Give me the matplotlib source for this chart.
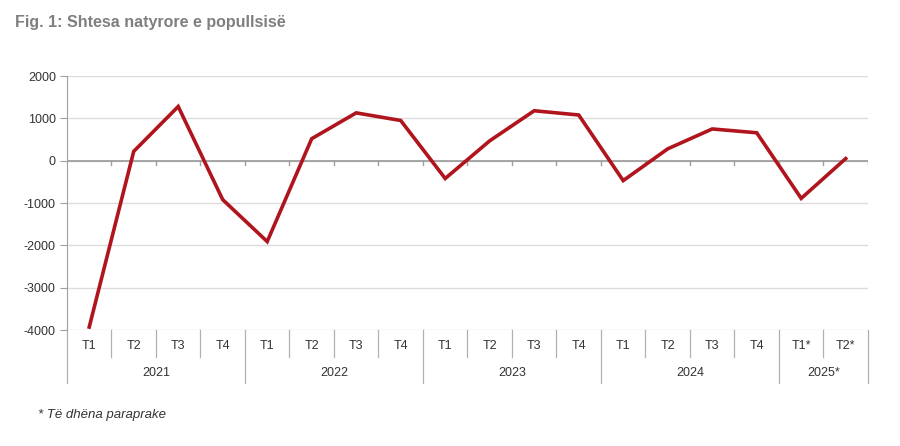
import matplotlib.pyplot as plt
import matplotlib.transforms as mtransforms
import numpy as np

# Data
quarters = ['T1', 'T2', 'T3', 'T4', 'T1', 'T2', 'T3', 'T4', 'T1', 'T2', 'T3', 'T4',
            'T1', 'T2', 'T3', 'T4', 'T1*', 'T2*']
years = ['2021', '2022', '2023', '2024', '2025*']
year_sizes = [4, 4, 4, 4, 2]
values = [-3930, 220, 1280, -920, -1910, 520, 1130, 950, -420, 470, 1180, 1080,
          -470, 280, 750, 660, -890, 50]

plt.rcParams['font.family'] = ['Liberation Sans', 'DejaVu Sans']
plt.rcParams['axes.unicode_minus'] = False

fig = plt.figure(figsize=(9, 4.46), dpi=100)
ax = fig.add_axes([0.0744, 0.260, 0.890, 0.5695])

n = len(values)
x = np.arange(n)
ax.plot(x, values, color='#B0151D', lw=2.6, solid_joinstyle='miter', zorder=3)

ax.set_xlim(-0.5, n - 0.5)
ax.set_ylim(-4000, 2000)
ax.set_yticks(range(-4000, 2001, 1000))
ax.yaxis.grid(True, color='#dcdcdc', lw=1)
ax.set_axisbelow(True)
ax.tick_params(axis='y', length=5, color='#a0a0a0', labelsize=9, labelcolor='#333333', pad=3)
ax.set_xticks([])
for side in ['top', 'right', 'bottom']:
    ax.spines[side].set_visible(False)
ax.spines['left'].set_color('#a0a0a0')

# zero line with small boundary ticks
ax.axhline(0, color='#a0a0a0', lw=1.3, zorder=2)
for b in np.arange(0.5, n, 1.0):
    ax.plot([b, b], [0, -100], color='#a0a0a0', lw=1, zorder=2)

# category table below axes
trans = mtransforms.blended_transform_factory(ax.transData, ax.transAxes)
h = 254.0
for i, q in enumerate(quarters):
    ax.text(i, -16 / h, q, transform=trans, ha='center', va='center',
            fontsize=9, color='#333333')
bounds = np.cumsum([0] + year_sizes)
for b in np.arange(1, n):
    if b in bounds:
        continue
    ax.plot([b - 0.5, b - 0.5], [0, -27 / h], transform=trans, color='#b0b0b0',
            lw=0.9, clip_on=False)
for b in bounds:
    ax.plot([b - 0.5, b - 0.5], [0, -53 / h], transform=trans, color='#b0b0b0',
            lw=0.9, clip_on=False)
for yr, s, e in zip(years, bounds[:-1], bounds[1:]):
    ax.text((s + e - 1) / 2, -43 / h, yr, transform=trans, ha='center', va='center',
            fontsize=9, color='#333333')

fig.text(15 / 900, 1 - 22 / 446, 'Fig. 1: Shtesa natyrore e popullsisë', ha='left', va='center',
         fontsize=11.5, fontweight='bold', color='#7f7f7f')
fig.text(38 / 900, 1 - 415 / 446, '* Të dhëna paraprake', ha='left', va='center',
         fontsize=9.5, style='italic', color='#333333')

fig.savefig('out.png', dpi=100, facecolor='white')
